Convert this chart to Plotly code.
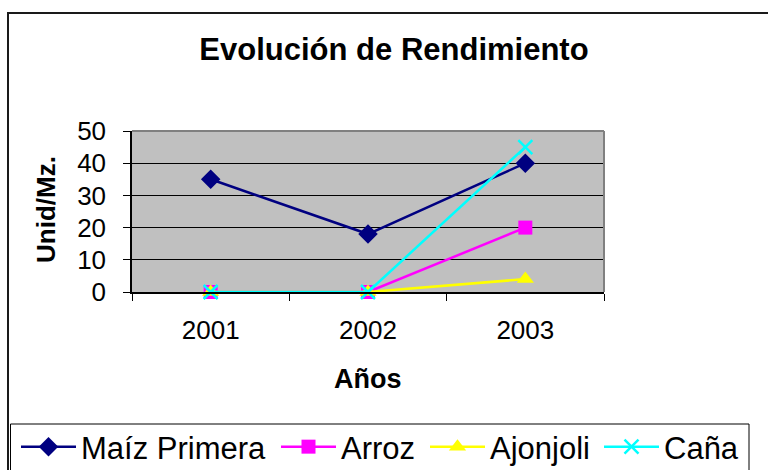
import plotly.graph_objects as go

years = ["2001", "2002", "2003"]
maiz = [35, 18, 40]
arroz = [0, 0, 20]
ajonjoli = [0, 0, 4]
cana = [0, 0, 45]

y_ticks = [0, 10, 20, 30, 40, 50]

FONT = "Liberation Sans, Arial, sans-serif"

# plot area in pixels
W, H = 768, 470
L, R, T, B = 132, 604, 131, 292
pw, ph = R - L, B - T

def px_x(p):
    return (p - L) / pw

def px_y(p):
    return (B - p) / ph

series = [
    ("Maíz Primera", maiz, "#000080", dict(symbol="diamond", size=15, color="#000080"), "legend", 16),
    ("Arroz", arroz, "#FF00FF", dict(symbol="square", size=14, color="#FF00FF"), "legend2", 276),
    ("Ajonjoli", ajonjoli, "#FFFF00", dict(symbol="triangle-up", size=15, color="#FFFF00"), "legend3", 425),
    ("Caña", cana, "#00FFFF", dict(symbol="x-thin", size=14, color="#00FFFF",
                                   line=dict(color="#00FFFF", width=2.5)), "legend4", 599),
]

fig = go.Figure()
legends = {}
for name, vals, col, mk, lg, lx in series:
    fig.add_trace(go.Scatter(
        x=years, y=vals, name=name, mode="lines+markers",
        line=dict(color=col, width=2.5), marker=mk, cliponaxis=False, legend=lg,
    ))
    legends[lg] = dict(xref="container", yref="container",
                       x=lx / W, y=1 - 447 / H, xanchor="left", yanchor="middle",
                       font=dict(size=31, family=FONT, color="black"),
                       bgcolor="rgba(0,0,0,0)", borderwidth=0, itemwidth=55)

fig.update_layout(
    width=W, height=H,
    margin=dict(l=L, r=W - R, t=T, b=H - B, autoexpand=False),
    paper_bgcolor="white", plot_bgcolor="#C0C0C0",
    font=dict(family=FONT, color="black"),
    showlegend=True,
    title=dict(text="<b>Evolución de Rendimiento</b>", x=px_x(394), xref="paper",
               xanchor="center", y=1 - 49 / H, yref="container", yanchor="middle",
               font=dict(size=31, family=FONT, color="black")),
    **legends,
)

fig.update_xaxes(
    type="category", range=[-0.5, 2.5], tickson="boundaries",
    ticks="outside", ticklen=7, tickcolor="black", tickwidth=1,
    showline=True, linecolor="black", linewidth=1.5,
    showgrid=False, zeroline=False,
    tickfont=dict(size=26, family=FONT, color="black"), ticklabelstandoff=14,
)
fig.update_yaxes(
    range=[0, 50], tickvals=y_ticks, ticks="outside", ticklen=7,
    tickcolor="black", tickwidth=1,
    showline=True, linecolor="black", linewidth=1.5,
    showgrid=True, gridcolor="black", gridwidth=1, zeroline=False,
    tickfont=dict(size=26, family=FONT, color="black"), ticklabelstandoff=12,
)

# axis titles
fig.add_annotation(text="<b>Años</b>", xref="paper", yref="paper", x=px_x(368), y=px_y(379),
                   showarrow=False, font=dict(size=27, family=FONT, color="black"),
                   xanchor="center", yanchor="middle")
fig.add_annotation(text="<b>Unid/Mz.</b>", xref="paper", yref="paper", x=px_x(46), y=px_y(210),
                   showarrow=False, textangle=-90, font=dict(size=26, family=FONT, color="black"),
                   xanchor="center", yanchor="middle")

# plot area border (top & right gray)
fig.add_shape(type="line", xref="paper", yref="paper", x0=0, x1=1, y0=1, y1=1,
              line=dict(color="#808080", width=2))
fig.add_shape(type="line", xref="paper", yref="paper", x0=1, x1=1, y0=0, y1=1,
              line=dict(color="#808080", width=2))
# outer chart border
fig.add_shape(type="rect", xref="paper", yref="paper", x0=px_x(8), x1=px_x(790),
              y0=px_y(490), y1=px_y(13), line=dict(color="#1a1a1a", width=2))
# legend border
fig.add_shape(type="rect", xref="paper", yref="paper", x0=px_x(10.5), x1=px_x(749),
              y0=px_y(490), y1=px_y(424), line=dict(color="black", width=1))

fig.write_html("out.html", config={"displayModeBar": False},
               post_script="document.body.style.margin='0';")
